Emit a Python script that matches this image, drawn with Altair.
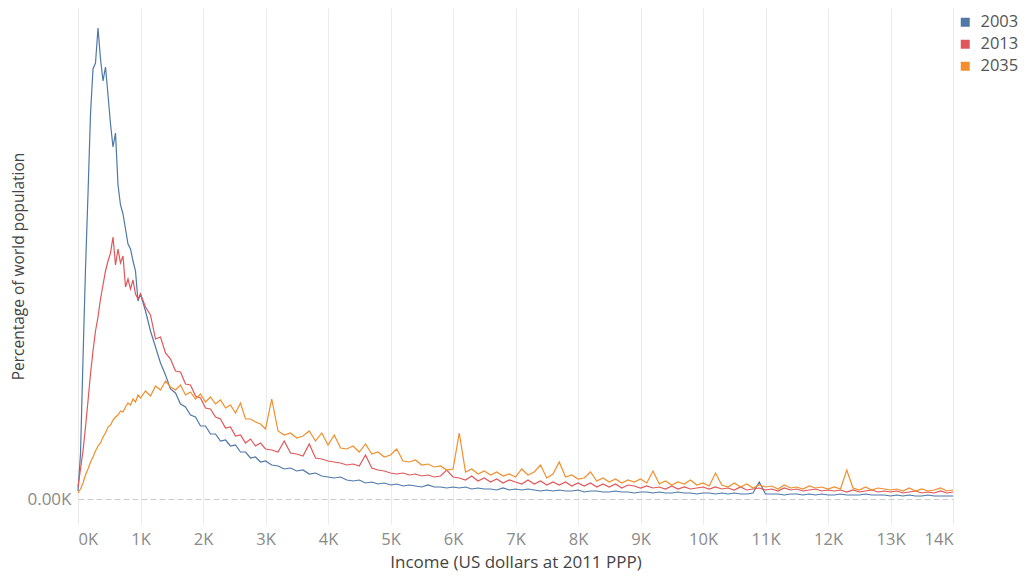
import altair as alt
import pandas as pd

years = ["2003", "2013", "2035"]
colors = ["#4e79a7", "#e15759", "#f28e2b"]

income = list(range(0, 1001, 40)) + list(range(1080, 3001, 80)) + list(range(3100, 14001, 100))

share_2003 = [
    8, 45, 140, 230, 305, 385, 430, 436, 471, 440, 418, 432, 404, 375, 352, 366, 314, 294, 285, 270,
    255, 250, 238, 228, 198, 205,
    188, 168, 152, 136, 124, 110, 106, 95, 92, 84, 82, 73, 73, 65, 65, 58, 59, 53, 54, 47, 47, 41, 42, 37, 38,
    34, 33, 30, 31, 28, 29, 25, 26, 23, 22,
    21, 22, 19, 18, 19, 16, 17, 15, 16, 14,
    15, 13, 14, 13, 12, 14, 12, 12, 11, 12,
    11, 12, 10, 11, 10, 10, 9, 11, 9, 10,
    9, 10, 9, 8, 9, 8, 9, 8, 8, 9,
    7, 8, 8, 7, 7, 8, 7, 7, 6, 7,
    7, 6, 7, 6, 6, 7, 6, 6, 5, 6,
    6, 5, 6, 5, 6, 5, 5, 6, 17, 5,
    5, 5, 4, 5, 5, 4, 5, 4, 5, 4,
    4, 5, 4, 4, 4, 5, 4, 4, 4, 3,
    4, 3, 4, 3, 3, 4, 3, 3, 3, 3,
]

share_2013 = [
    12, 30, 48, 72, 98, 125, 148, 168, 182, 200, 214, 228, 238, 246, 262, 234, 250, 236, 243, 212,
    220, 210, 219, 205, 200, 205,
    192, 184, 160, 162, 146, 140, 128, 127, 115, 114, 103, 101, 91, 90, 82, 80, 71, 72, 63, 64, 56, 60, 53, 56, 50,
    49, 47, 58, 46, 45, 43, 55, 41, 40, 38,
    37, 36, 34, 35, 33, 44, 31, 29, 28, 26,
    25, 26, 24, 25, 23, 24, 22, 23, 29, 22,
    21, 19, 23, 18, 21, 17, 20, 16, 19, 17,
    15, 19, 15, 18, 14, 17, 14, 17, 13, 16,
    13, 16, 12, 15, 12, 15, 11, 14, 13, 11,
    13, 11, 12, 10, 13, 10, 12, 10, 11, 12,
    10, 12, 10, 11, 9, 12, 9, 10, 11, 9,
    10, 8, 11, 9, 10, 8, 9, 10, 8, 9,
    8, 9, 7, 9, 7, 8, 9, 7, 8, 7,
    8, 6, 7, 8, 6, 7, 6, 8, 6, 7,
]

share_2035 = [
    6, 10, 16, 24, 30, 37, 42, 48, 53, 56, 62, 66, 72, 74, 79, 82, 84, 88, 87, 92,
    96, 94, 100, 97, 104, 101,
    108, 103, 113, 109, 118, 112, 109, 114, 104, 107, 100, 105, 97, 102, 95, 99, 91, 94, 86, 96, 80, 80, 77, 75, 70,
    100, 68, 64, 66, 61, 63, 68, 58, 66, 54,
    64, 51, 50, 53, 47, 55, 45, 47, 42, 44,
    50, 38, 37, 39, 34, 35, 32, 33, 29, 30,
    66, 27, 30, 25, 28, 24, 27, 23, 25, 22,
    30, 24, 27, 34, 21, 25, 37, 22, 24, 20,
    21, 27, 18, 21, 17, 20, 16, 19, 17, 20,
    16, 28, 15, 18, 14, 17, 15, 19, 14, 16,
    13, 26, 14, 12, 16, 12, 15, 11, 14, 12,
    13, 10, 14, 11, 12, 10, 13, 11, 12, 10,
    12, 10, 29, 11, 9, 12, 9, 11, 10, 9,
    10, 8, 11, 8, 10, 8, 9, 11, 8, 9,
]

x_ticks = [0, 1000, 2000, 3000, 4000, 5000, 6000, 7000, 8000, 9000, 10000, 11000, 12000, 13000, 14000]

rows = []
for yr, vals in zip(years, [share_2003, share_2013, share_2035]):
    for x, v in zip(income, vals):
        rows.append({"income": x, "share": v, "year": yr})
df = pd.DataFrame(rows)

FONT = "Open Sans"

chart = alt.Chart(df).mark_line(strokeWidth=1.2).encode(
    x=alt.X(
        "income:Q",
        scale=alt.Scale(domain=[0, 14000], nice=False, zero=False),
        axis=alt.Axis(
            values=x_ticks,
            labelExpr="datum.value / 1000 + 'K'",
            title="Income (US dollars at 2011 PPP)",
            grid=True, gridColor="#ebebeb", gridWidth=1,
            domain=False, ticks=False,
            labelFlush=True, labelFlushOffset=0,
            labelFont=FONT, labelFontSize=16.5, labelColor="#8a8a8a", labelPadding=7,
            titleFont=FONT, titleFontSize=17, titleColor="#444444", titleFontWeight="normal",
            titlePadding=7,
        ),
    ),
    y=alt.Y(
        "share:Q",
        scale=alt.Scale(domain=[-25, 491], nice=False, zero=False),
        axis=alt.Axis(
            values=[0],
            labelExpr="'0.00K'",
            title="Percentage of world population",
            grid=True, gridColor="#cccccc", gridDash=[6, 3], gridWidth=1,
            domain=False, ticks=False,
            labelFont=FONT, labelFontSize=17, labelColor="#8a8a8a", labelPadding=7,
            titleFont=FONT, titleFontSize=15.5, titleColor="#444444", titleFontWeight="normal",
            titlePadding=0,
        ),
    ),
    color=alt.Color(
        "year:N",
        scale=alt.Scale(domain=years, range=colors),
        legend=alt.Legend(
            title=None, orient="none", legendX=879, legendY=6,
            symbolType="square", symbolSize=20, symbolStrokeWidth=4.5,
            labelFont=FONT, labelFontSize=16.5, labelColor="#555555", labelOffset=7,
            rowPadding=-1, padding=0,
        ),
    ),
).properties(
    width=875, height=516,
    padding={"left": 70, "top": 0, "right": 72, "bottom": 49},
    autosize=alt.AutoSizeParams(type="none"),
).configure_view(stroke=None)

chart.save("out.html", embed_options={"renderer": "svg", "actions": False})
